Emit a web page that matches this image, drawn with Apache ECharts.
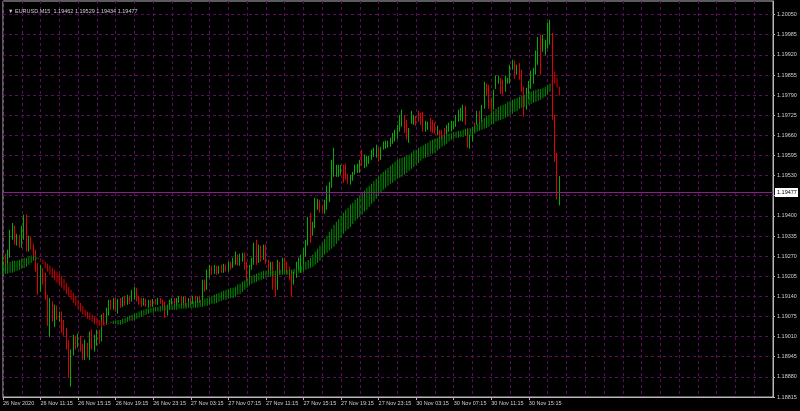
<!DOCTYPE html>
<html><head><meta charset="utf-8">
<script src="https://cdn.jsdelivr.net/npm/echarts@6/dist/echarts.min.js"></script>
<style>html,body{margin:0;padding:0;background:#000;}#c{width:800px;height:411px;}</style>
</head><body><div id="c"></div>
<script>
const symbolTitle = '\u25BC EURUSD,M15  1.19462 1.19529 1.19434 1.19477';
const timeLabels = ['26 Nov 2020','26 Nov 11:15','26 Nov 15:15','26 Nov 19:15','26 Nov 23:15','27 Nov 03:15','27 Nov 07:15','27 Nov 11:15','27 Nov 15:15','27 Nov 19:15','27 Nov 23:15','30 Nov 03:15','30 Nov 07:15','30 Nov 11:15','30 Nov 15:15'];
const barsPerLabel = 16;
const barsPerGrid = 8;
const totalSlots = 329;
const yTicks = [1.18815,1.18880,1.18945,1.19010,1.19075,1.19140,1.19205,1.19270,1.19335,1.19400,1.19465,1.19530,1.19595,1.19660,1.19725,1.19790,1.19855,1.19920,1.19985,1.20050];
const bidPrice = 1.19477;

const open = [
1.19239,1.19258,1.19252,1.19275,1.19336,1.19358,1.19317,1.19329,1.19307,1.19336,
1.19361,1.19291,1.19323,1.19297,1.19285,1.19232,1.19168,1.19220,1.19194,1.19135,
1.19064,1.19113,1.19071,1.19097,1.19071,1.19084,1.19045,1.19032,1.18984,1.18884,
1.18962,1.19000,1.18981,1.19006,1.18981,1.18945,1.18984,1.18949,1.19019,1.18984,
1.19000,1.19019,1.19000,1.19071,1.19058,1.19091,1.19119,1.19110,1.19129,1.19110,
1.19123,1.19113,1.19129,1.19119,1.19135,1.19129,1.19142,1.19161,1.19129,1.19123,
1.19116,1.19126,1.19116,1.19123,1.19113,1.19126,1.19119,1.19129,1.19123,1.19116,
1.19084,1.19103,1.19119,1.19129,1.19116,1.19129,1.19135,1.19119,1.19132,1.19116,
1.19129,1.19123,1.19135,1.19126,1.19132,1.19129,1.19178,1.19168,1.19210,1.19232,
1.19220,1.19232,1.19220,1.19232,1.19223,1.19236,1.19226,1.19245,1.19239,1.19252,
1.19265,1.19252,1.19265,1.19275,1.19232,1.19200,1.19232,1.19252,1.19297,1.19258,
1.19291,1.19272,1.19301,1.19252,1.19232,1.19242,1.19194,1.19171,1.19242,1.19226,
1.19252,1.19232,1.19226,1.19207,1.19187,1.19207,1.19232,1.19249,1.19258,1.19285,
1.19313,1.19381,1.19349,1.19368,1.19436,1.19442,1.19426,1.19420,1.19436,1.19458,
1.19501,1.19565,1.19542,1.19549,1.19542,1.19558,1.19558,1.19526,1.19507,1.19523,
1.19539,1.19549,1.19542,1.19604,1.19558,1.19565,1.19575,1.19588,1.19598,1.19591,
1.19614,1.19588,1.19620,1.19623,1.19627,1.19630,1.19640,1.19646,1.19655,1.19678,
1.19694,1.19717,1.19684,1.19646,1.19704,1.19701,1.19717,1.19733,1.19726,1.19733,
1.19678,1.19684,1.19710,1.19704,1.19694,1.19668,1.19672,1.19672,1.19678,1.19668,
1.19678,1.19678,1.19688,1.19694,1.19710,1.19717,1.19710,1.19749,1.19678,1.19623,
1.19646,1.19694,1.19701,1.19733,1.19710,1.19752,1.19814,1.19817,1.19775,1.19749,
1.19817,1.19833,1.19840,1.19833,1.19807,1.19833,1.19833,1.19878,1.19894,1.19862,
1.19888,1.19866,1.19785,1.19749,1.19785,1.19817,1.19833,1.19862,1.19894,1.19969,
1.19937,1.19927,1.19946,1.19959,1.19959,1.19720,1.19591,1.19462];

const high = [
1.19272,1.19278,1.19291,1.19355,1.19377,1.19368,1.19342,1.19339,1.19368,1.19404,
1.19404,1.19336,1.19333,1.19310,1.19291,1.19248,1.19242,1.19232,1.19216,1.19145,
1.19135,1.19123,1.19113,1.19110,1.19091,1.19091,1.19064,1.19038,1.19000,1.18968,
1.19016,1.19013,1.19019,1.19013,1.18987,1.19000,1.18990,1.19026,1.19032,1.19016,
1.19032,1.19032,1.19081,1.19087,1.19103,1.19129,1.19129,1.19135,1.19135,1.19132,
1.19135,1.19139,1.19142,1.19145,1.19142,1.19161,1.19171,1.19168,1.19142,1.19135,
1.19135,1.19132,1.19129,1.19129,1.19132,1.19132,1.19135,1.19135,1.19129,1.19123,
1.19113,1.19129,1.19135,1.19135,1.19135,1.19142,1.19142,1.19139,1.19139,1.19135,
1.19135,1.19142,1.19142,1.19139,1.19142,1.19194,1.19194,1.19226,1.19242,1.19239,
1.19242,1.19239,1.19239,1.19242,1.19245,1.19242,1.19252,1.19252,1.19265,1.19285,
1.19275,1.19278,1.19281,1.19281,1.19252,1.19242,1.19265,1.19313,1.19323,1.19307,
1.19304,1.19307,1.19307,1.19258,1.19252,1.19252,1.19210,1.19258,1.19252,1.19265,
1.19265,1.19252,1.19236,1.19226,1.19220,1.19252,1.19265,1.19275,1.19297,1.19323,
1.19397,1.19410,1.19381,1.19458,1.19455,1.19452,1.19436,1.19452,1.19497,1.19510,
1.19581,1.19620,1.19565,1.19565,1.19565,1.19565,1.19568,1.19536,1.19533,1.19542,
1.19565,1.19568,1.19581,1.19614,1.19598,1.19594,1.19594,1.19614,1.19620,1.19630,
1.19620,1.19623,1.19640,1.19643,1.19643,1.19652,1.19668,1.19678,1.19694,1.19726,
1.19743,1.19726,1.19710,1.19684,1.19739,1.19726,1.19723,1.19739,1.19733,1.19736,
1.19707,1.19704,1.19717,1.19710,1.19701,1.19691,1.19678,1.19678,1.19684,1.19694,
1.19701,1.19707,1.19707,1.19726,1.19743,1.19749,1.19759,1.19756,1.19684,1.19662,
1.19684,1.19701,1.19739,1.19739,1.19759,1.19833,1.19827,1.19823,1.19781,1.19807,
1.19853,1.19853,1.19846,1.19840,1.19853,1.19846,1.19888,1.19904,1.19901,1.19888,
1.19894,1.19872,1.19817,1.19814,1.19836,1.19869,1.19878,1.19934,1.19978,1.19985,
1.19985,1.19969,1.20024,1.20033,1.19991,1.19726,1.19604,1.19529];

const low = [
1.19232,1.19239,1.19245,1.19265,1.19323,1.19307,1.19304,1.19297,1.19297,1.19323,
1.19285,1.19285,1.19291,1.19272,1.19220,1.19145,1.19155,1.19178,1.19129,1.19045,
1.19009,1.19058,1.19041,1.19064,1.19058,1.19022,1.19013,1.18968,1.18877,1.18848,
1.18949,1.18968,1.18974,1.18962,1.18935,1.18935,1.18942,1.18935,1.18968,1.18962,
1.18981,1.18987,1.18994,1.19048,1.19048,1.19078,1.19097,1.19097,1.19091,1.19084,
1.19103,1.19106,1.19110,1.19113,1.19116,1.19123,1.19129,1.19123,1.19113,1.19106,
1.19110,1.19106,1.19103,1.19106,1.19106,1.19113,1.19113,1.19116,1.19106,1.19071,
1.19078,1.19097,1.19113,1.19110,1.19110,1.19119,1.19110,1.19113,1.19106,1.19110,
1.19113,1.19116,1.19116,1.19119,1.19119,1.19123,1.19155,1.19161,1.19200,1.19210,
1.19213,1.19210,1.19213,1.19216,1.19216,1.19220,1.19220,1.19226,1.19232,1.19242,
1.19239,1.19239,1.19252,1.19226,1.19187,1.19194,1.19226,1.19242,1.19242,1.19248,
1.19252,1.19258,1.19245,1.19220,1.19216,1.19161,1.19139,1.19161,1.19210,1.19216,
1.19220,1.19213,1.19194,1.19139,1.19178,1.19200,1.19226,1.19216,1.19242,1.19268,
1.19304,1.19313,1.19336,1.19361,1.19420,1.19410,1.19413,1.19407,1.19420,1.19445,
1.19491,1.19526,1.19526,1.19526,1.19533,1.19507,1.19517,1.19504,1.19501,1.19513,
1.19533,1.19539,1.19539,1.19562,1.19555,1.19558,1.19568,1.19581,1.19591,1.19588,
1.19575,1.19581,1.19614,1.19617,1.19620,1.19623,1.19633,1.19640,1.19649,1.19672,
1.19688,1.19668,1.19646,1.19636,1.19697,1.19694,1.19691,1.19704,1.19694,1.19672,
1.19672,1.19678,1.19672,1.19668,1.19665,1.19662,1.19649,1.19646,1.19649,1.19662,
1.19672,1.19672,1.19681,1.19688,1.19704,1.19707,1.19704,1.19694,1.19620,1.19617,
1.19640,1.19672,1.19694,1.19691,1.19704,1.19746,1.19788,1.19746,1.19713,1.19743,
1.19810,1.19827,1.19794,1.19791,1.19801,1.19827,1.19827,1.19872,1.19843,1.19856,
1.19840,1.19801,1.19720,1.19743,1.19778,1.19810,1.19827,1.19856,1.19888,1.19856,
1.19930,1.19920,1.19940,1.19953,1.19710,1.19575,1.19452,1.19434];

const close = [
1.19258,1.19252,1.19275,1.19339,1.19361,1.19317,1.19329,1.19307,1.19339,1.19361,
1.19291,1.19323,1.19297,1.19285,1.19232,1.19168,1.19220,1.19194,1.19135,1.19064,
1.19113,1.19071,1.19097,1.19071,1.19084,1.19045,1.19032,1.18984,1.18884,1.18962,
1.19000,1.18981,1.19006,1.18981,1.18945,1.18984,1.18949,1.19019,1.18984,1.19000,
1.19019,1.19000,1.19071,1.19058,1.19091,1.19119,1.19110,1.19129,1.19110,1.19123,
1.19113,1.19129,1.19119,1.19135,1.19129,1.19142,1.19161,1.19129,1.19123,1.19116,
1.19126,1.19116,1.19123,1.19113,1.19126,1.19119,1.19129,1.19123,1.19116,1.19084,
1.19103,1.19119,1.19129,1.19116,1.19129,1.19135,1.19119,1.19132,1.19116,1.19129,
1.19123,1.19135,1.19126,1.19132,1.19129,1.19178,1.19168,1.19210,1.19232,1.19220,
1.19232,1.19220,1.19232,1.19223,1.19236,1.19226,1.19245,1.19239,1.19252,1.19265,
1.19252,1.19265,1.19275,1.19232,1.19200,1.19232,1.19252,1.19297,1.19258,1.19291,
1.19272,1.19301,1.19252,1.19232,1.19242,1.19194,1.19171,1.19242,1.19226,1.19252,
1.19232,1.19226,1.19207,1.19187,1.19207,1.19232,1.19252,1.19265,1.19291,1.19313,
1.19387,1.19349,1.19361,1.19442,1.19449,1.19420,1.19420,1.19436,1.19484,1.19501,
1.19572,1.19607,1.19558,1.19558,1.19558,1.19526,1.19526,1.19517,1.19526,1.19533,
1.19558,1.19562,1.19575,1.19572,1.19591,1.19588,1.19588,1.19604,1.19614,1.19623,
1.19581,1.19614,1.19630,1.19636,1.19633,1.19646,1.19652,1.19668,1.19688,1.19717,
1.19733,1.19678,1.19652,1.19678,1.19733,1.19720,1.19704,1.19710,1.19701,1.19678,
1.19701,1.19697,1.19678,1.19678,1.19672,1.19684,1.19655,1.19655,1.19655,1.19688,
1.19694,1.19701,1.19701,1.19720,1.19736,1.19743,1.19749,1.19701,1.19630,1.19655,
1.19678,1.19678,1.19733,1.19701,1.19752,1.19823,1.19801,1.19752,1.19720,1.19801,
1.19846,1.19846,1.19801,1.19797,1.19846,1.19840,1.19882,1.19898,1.19849,1.19882,
1.19846,1.19807,1.19759,1.19807,1.19830,1.19862,1.19872,1.19927,1.19969,1.19862,
1.19978,1.19959,1.20011,1.20017,1.19720,1.19588,1.19465,1.19477];

const maFast = [
1.19242,1.19242,1.19245,1.19252,1.19255,1.19255,1.19255,1.19258,1.19262,1.19265,
1.19265,1.19268,1.19272,1.19272,1.19268,1.19265,1.19258,1.19245,1.19232,1.19220,
1.19210,1.19200,1.19191,1.19184,1.19178,1.19168,1.19158,1.19148,1.19138,1.19129,
1.19119,1.19110,1.19100,1.19091,1.19081,1.19074,1.19068,1.19064,1.19058,1.19051,
1.19048,1.19045,1.19041,1.19045,1.19048,1.19051,1.19058,1.19061,1.19061,1.19064,
1.19064,1.19068,1.19071,1.19074,1.19078,1.19081,1.19084,1.19087,1.19091,1.19094,
1.19097,1.19100,1.19100,1.19103,1.19103,1.19106,1.19106,1.19110,1.19110,1.19110,
1.19113,1.19113,1.19113,1.19116,1.19116,1.19116,1.19119,1.19119,1.19119,1.19123,
1.19123,1.19123,1.19126,1.19126,1.19129,1.19129,1.19132,1.19135,1.19138,1.19142,
1.19145,1.19148,1.19151,1.19155,1.19158,1.19161,1.19165,1.19168,1.19168,1.19171,
1.19178,1.19181,1.19187,1.19191,1.19197,1.19200,1.19207,1.19210,1.19213,1.19216,
1.19220,1.19223,1.19223,1.19226,1.19226,1.19223,1.19223,1.19226,1.19226,1.19226,
1.19226,1.19226,1.19226,1.19226,1.19229,1.19232,1.19236,1.19239,1.19245,1.19252,
1.19258,1.19265,1.19275,1.19285,1.19294,1.19304,1.19313,1.19326,1.19336,1.19349,
1.19358,1.19371,1.19381,1.19391,1.19401,1.19410,1.19420,1.19426,1.19436,1.19442,
1.19452,1.19458,1.19465,1.19474,1.19481,1.19491,1.19497,1.19504,1.19513,1.19520,
1.19526,1.19536,1.19542,1.19549,1.19555,1.19562,1.19568,1.19575,1.19581,1.19585,
1.19588,1.19591,1.19594,1.19598,1.19604,1.19611,1.19614,1.19620,1.19623,1.19627,
1.19633,1.19636,1.19643,1.19646,1.19649,1.19652,1.19655,1.19659,1.19662,1.19662,
1.19665,1.19668,1.19672,1.19672,1.19675,1.19675,1.19678,1.19681,1.19681,1.19684,
1.19688,1.19691,1.19697,1.19704,1.19710,1.19717,1.19723,1.19726,1.19733,1.19739,
1.19746,1.19752,1.19756,1.19759,1.19762,1.19769,1.19772,1.19775,1.19778,1.19781,
1.19785,1.19788,1.19791,1.19794,1.19797,1.19801,1.19804,1.19807,1.19810,1.19810,
1.19814,1.19817,1.19823,1.19827,1.19820,1.19827,1.19814,1.19788];

const maSlow = [
1.19210,1.19213,1.19213,1.19216,1.19216,1.19220,1.19223,1.19226,1.19229,1.19232,
1.19236,1.19242,1.19248,1.19255,1.19258,1.19262,1.19262,1.19258,1.19252,1.19245,
1.19239,1.19232,1.19226,1.19220,1.19213,1.19207,1.19197,1.19184,1.19171,1.19161,
1.19151,1.19142,1.19129,1.19119,1.19110,1.19097,1.19091,1.19087,1.19081,1.19074,
1.19071,1.19064,1.19061,1.19058,1.19054,1.19054,1.19054,1.19051,1.19051,1.19048,
1.19048,1.19051,1.19054,1.19058,1.19061,1.19061,1.19064,1.19068,1.19071,1.19074,
1.19078,1.19081,1.19084,1.19087,1.19087,1.19091,1.19091,1.19091,1.19094,1.19094,
1.19094,1.19097,1.19097,1.19097,1.19097,1.19100,1.19100,1.19100,1.19100,1.19103,
1.19103,1.19103,1.19103,1.19103,1.19106,1.19106,1.19110,1.19110,1.19113,1.19116,
1.19116,1.19119,1.19123,1.19126,1.19129,1.19129,1.19132,1.19135,1.19135,1.19138,
1.19145,1.19148,1.19155,1.19161,1.19168,1.19175,1.19181,1.19184,1.19187,1.19191,
1.19194,1.19197,1.19200,1.19203,1.19203,1.19207,1.19207,1.19207,1.19210,1.19210,
1.19210,1.19210,1.19210,1.19213,1.19213,1.19213,1.19216,1.19216,1.19220,1.19226,
1.19229,1.19232,1.19236,1.19242,1.19248,1.19255,1.19265,1.19275,1.19281,1.19288,
1.19294,1.19300,1.19310,1.19320,1.19329,1.19342,1.19352,1.19358,1.19364,1.19374,
1.19384,1.19391,1.19397,1.19404,1.19414,1.19420,1.19429,1.19439,1.19446,1.19455,
1.19465,1.19474,1.19484,1.19491,1.19497,1.19504,1.19507,1.19513,1.19520,1.19523,
1.19526,1.19533,1.19539,1.19546,1.19552,1.19558,1.19565,1.19571,1.19578,1.19585,
1.19588,1.19591,1.19598,1.19601,1.19604,1.19611,1.19617,1.19623,1.19627,1.19633,
1.19640,1.19646,1.19649,1.19652,1.19652,1.19655,1.19655,1.19659,1.19659,1.19659,
1.19662,1.19665,1.19672,1.19675,1.19678,1.19681,1.19684,1.19688,1.19694,1.19697,
1.19704,1.19707,1.19710,1.19713,1.19717,1.19720,1.19726,1.19730,1.19736,1.19739,
1.19746,1.19749,1.19752,1.19756,1.19759,1.19762,1.19765,1.19769,1.19772,1.19775,
1.19781,1.19785,1.19791,1.19801,1.19840,1.19866,1.19846,1.19817];

const categories = [];
for (let i = 0; i < totalSlots; i++) categories.push(String(i));
const candleData = open.map((o, i) => [o, close[i], low[i], high[i]]);
const bandData = maFast.map((f, i) => [i, f, maSlow[i]]);

const showLabel = (i) => i % barsPerLabel === 0 && (i / barsPerLabel) < timeLabels.length;
const gridCol = '#5c0c5c';
const axisCol = '#b8b8b8';
const txtCol = '#cfcfcf';
const font = 'Liberation Sans';
const bandUp = '#009200', bandDown = '#d40000';

const chart = echarts.init(document.getElementById('c'), null, {renderer: 'canvas'});
chart.setOption({
  animation: false,
  backgroundColor: '#000000',
  title: {
    text: symbolTitle, left: 3, top: 3,
    textStyle: {color: txtCol, fontSize: 5.5, fontWeight: 'normal', fontFamily: font}
  },
  grid: {left: 1, right: 27, top: 1, bottom: 14, show: true, borderColor: axisCol, borderWidth: 1, backgroundColor: 'transparent'},
  xAxis: {
    type: 'category', data: categories, boundaryGap: false,
    axisLine: {show: true, lineStyle: {color: axisCol}},
    axisTick: {show: true, interval: showLabel, length: 3, lineStyle: {color: axisCol}},
    axisLabel: {
      interval: showLabel, color: txtCol, fontSize: 5.5, fontFamily: font, align: 'left', margin: 3,
      formatter: (v, i) => timeLabels[Math.round(Number(v) / barsPerLabel)] || ''
    },
    splitLine: {show: true, interval: (i) => i % barsPerGrid === 0, lineStyle: {color: gridCol, type: [3, 3], width: 1}}
  },
  yAxis: {
    type: 'value', position: 'right', min: 1.18815, max: 1.20094, scale: true,
    axisLine: {show: true, lineStyle: {color: axisCol}},
    axisTick: {show: true, customValues: yTicks, length: 2, lineStyle: {color: axisCol}},
    axisLabel: {customValues: yTicks, color: txtCol, fontSize: 5.5, fontFamily: font, margin: 4, formatter: (v) => Number(v).toFixed(5)},
    splitLine: {show: true, lineStyle: {color: gridCol, type: [3, 3], width: 1}}
  },
  series: [
    {
      type: 'candlestick', name: 'EURUSD', data: candleData, barWidth: 1, z: 2,
      itemStyle: {color: '#00b000', color0: '#e00000', borderColor: '#00b000', borderColor0: '#e00000', borderWidth: 1}
    },
    {
      type: 'custom', name: 'MA band', data: bandData, z: 3,
      encode: {x: 0, y: [1, 2]},
      renderItem: function (params, api) {
        const i = api.value(0), f = api.value(1), s = api.value(2);
        const a = api.coord([i, f]), b = api.coord([i, s]);
        const top = Math.min(a[1], b[1]);
        return {
          type: 'rect',
          shape: {x: a[0] - 0.5, y: top, width: 1, height: Math.max(1, Math.abs(a[1] - b[1]))},
          style: {fill: f >= s ? bandUp : bandDown}
        };
      }
    },
    {
      type: 'custom', name: 'bid', data: [[0, bidPrice]], z: 6, clip: false, silent: true,
      encode: {x: 0, y: 1},
      renderItem: function (params, api) {
        const cs = params.coordSys;
        const y = Math.round(api.coord([0, api.value(1)])[1]) + 0.5;
        const right = cs.x + cs.width;
        return {
          type: 'group',
          children: [
            {type: 'line', shape: {x1: cs.x, y1: y, x2: right, y2: y}, style: {stroke: '#8c1c8c', lineWidth: 1}},
            {type: 'rect', shape: {x: right + 2, y: y - 4.5, width: 23, height: 9}, style: {fill: '#ffffff'}},
            {type: 'text', style: {text: api.value(1).toFixed(5), x: right + 4, y: y, fill: '#000000', font: '5.5px "Liberation Sans"', verticalAlign: 'middle', align: 'left'}}
          ]
        };
      }
    }
  ]
});
</script>
</body></html>
